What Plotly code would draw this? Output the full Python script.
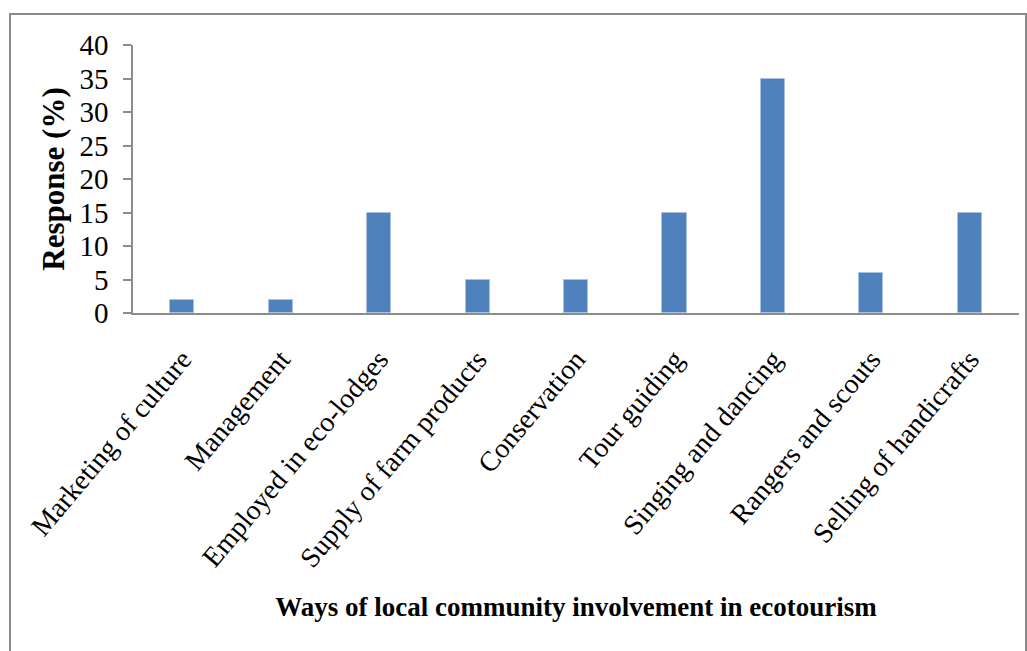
import plotly.graph_objects as go

# Ways of local community involvement in ecotourism, share of responses (%)
categories = [
    "Marketing of culture",
    "Management",
    "Employed in eco-lodges",
    "Supply of farm products",
    "Conservation",
    "Tour guiding",
    "Singing and dancing",
    "Rangers and scouts",
    "Selling of handicrafts",
]
response_pct = [2, 2, 15, 5, 5, 15, 35, 6, 15]
y_ticks = [0, 5, 10, 15, 20, 25, 30, 35, 40]

SERIF = "Liberation Serif, Times New Roman, serif"
AXIS_GREY = "#8c8c8c"

fig = go.Figure(
    go.Bar(
        x=categories,
        y=response_pct,
        width=0.245,
        marker=dict(color="#4f81bd", line=dict(color="#a9c1e0", width=1)),
        hoverinfo="x+y",
    )
)

W, H = 1027, 651
M_L, M_R, M_T, M_B = 133, 8, 45, 338
pw, ph = W - M_L - M_R, H - M_T - M_B

def px_x(x):
    return (x - M_L) / pw

def px_y(y):
    return (H - M_B - y) / ph

# outer chart frame
fig.add_shape(
    type="rect", xref="paper", yref="paper",
    x0=px_x(10), x1=px_x(1026), y0=px_y(670), y1=px_y(14),
    line=dict(color="#8a8a8a", width=2), fillcolor="rgba(0,0,0,0)", layer="below",
)

fig.update_layout(
    width=W, height=H,
    margin=dict(l=M_L, r=M_R, t=M_T, b=M_B, pad=0),
    paper_bgcolor="white", plot_bgcolor="white",
    showlegend=False,
    font=dict(family=SERIF, color="black"),
    bargap=0,
)

fig.update_xaxes(
    type="category",
    range=[-0.5, len(categories) - 0.5],
    showline=True, linecolor=AXIS_GREY, linewidth=1.5,
    showgrid=False, zeroline=False,
    ticks="", tickangle=-50,
    tickfont=dict(family=SERIF, size=28, color="black"),
    ticklabelstandoff=17,
    title=dict(
        text="<b>Ways of local community involvement in ecotourism</b>",
        font=dict(family=SERIF, size=27, color="black"),
        standoff=25,
    ),
)

fig.update_yaxes(
    range=[0, 40],
    tickvals=y_ticks,
    showline=True, linecolor=AXIS_GREY, linewidth=1.5,
    showgrid=False, zeroline=False,
    ticks="outside", ticklen=8, tickcolor=AXIS_GREY, tickwidth=1.5,
    tickfont=dict(family=SERIF, size=29, color="black"),
    ticklabelstandoff=9,
    title=dict(
        text="<b>Response (%)</b>",
        font=dict(family=SERIF, size=31, color="black"),
        standoff=6,
    ),
)

fig.write_html("out.html")
